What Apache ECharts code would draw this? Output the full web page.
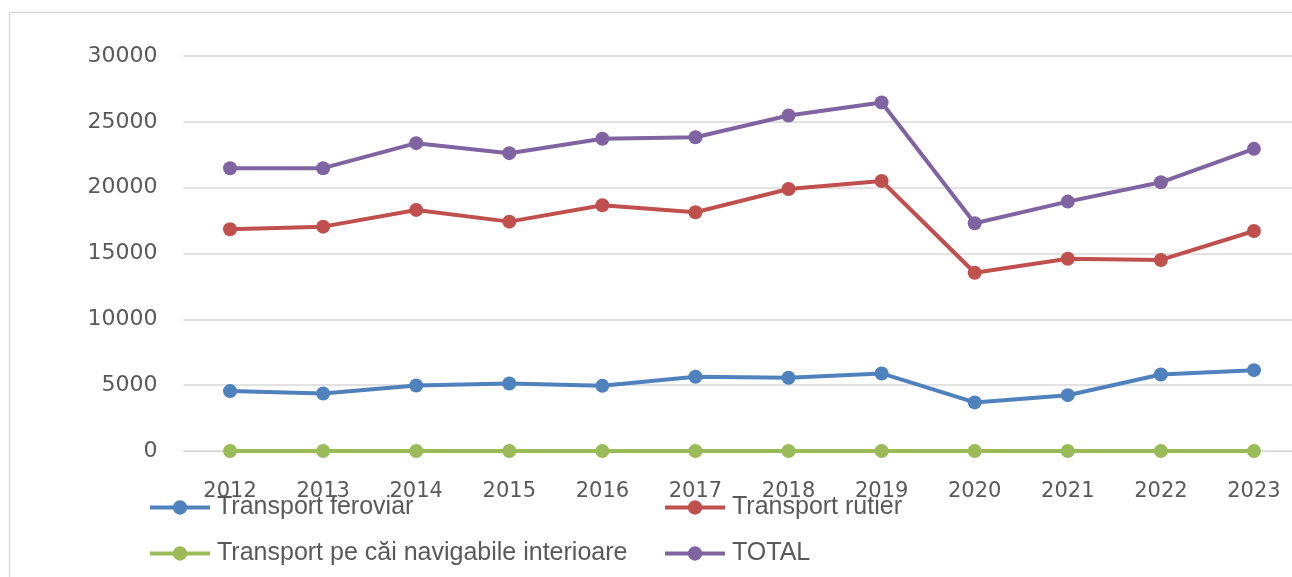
<!DOCTYPE html>
<html>
<head>
<meta charset="utf-8">
<script src="https://cdn.jsdelivr.net/npm/echarts@6/dist/echarts.min.js"></script>
<style>
  html, body { margin: 0; padding: 0; background: #fff; }
  #chart { width: 1292px; height: 577px; }
</style>
</head>
<body>
<div id="chart"></div>
<script>
// ani pe axa X
const years = ["2012", "2013", "2014", "2015", "2016", "2017", "2018", "2019", "2020", "2021", "2022", "2023"];
// valori
const feroviar = [4550, 4370, 4980, 5130, 4950, 5640, 5560, 5890, 3690, 4240, 5810, 6140];
const rutier = [16840, 17040, 18310, 17420, 18660, 18130, 19900, 20510, 13540, 14600, 14510, 16710];
const navigabile = [0, 0, 0, 0, 0, 0, 0, 0, 0, 0, 0, 0];
const total = [21480, 21480, 23380, 22620, 23710, 23830, 25480, 26470, 17300, 18940, 20410, 22950];

const names = [
  "Transport feroviar",
  "Transport rutier",
  "Transport pe căi navigabile interioare",
  "TOTAL",
];
const colors = ["#4F81BD", "#C0504D", "#9BBB59", "#8064A2"];

const labelFont = "'DejaVu Sans', sans-serif";
const legendFont = "'Liberation Sans', Arial, sans-serif";

function lineSeries(name, data, color) {
  return {
    name: name,
    type: "line",
    data: data,
    symbol: "circle",
    symbolSize: 14,
    itemStyle: { color: color },
    lineStyle: { color: color, width: 4 },
    animation: false,
  };
}

const legendCommon = {
  orient: "vertical",
  top: 495,
  padding: 0,
  itemWidth: 60,
  itemHeight: 18,
  itemGap: 21,
  lineStyle: { width: 4 },
  textStyle: { fontFamily: legendFont, fontSize: 25, color: "#595959", padding: [0, 0, 0, 2] },
};

const myChart = echarts.init(document.getElementById("chart"));
myChart.setOption({
  backgroundColor: "#fff",
  color: colors,
  graphic: [
    {
      type: "polyline",
      shape: { points: [[9.5, 600], [9.5, 12.5], [1300, 12.5]] },
      style: { fill: null, stroke: "#d9d9d9", lineWidth: 1.5 },
      silent: true,
    },
  ],
  legend: [
    Object.assign({}, legendCommon, { left: 148, data: [names[0], names[2]] }),
    Object.assign({}, legendCommon, { left: 663, data: [names[1], names[3]] }),
  ],
  // graficul original e tăiat la dreapta, de aceea lățimea trece de marginea ferestrei
  grid: { left: 183.5, width: 1117, top: 56, bottom: 126, outerBoundsMode: "none", containLabel: false },
  xAxis: {
    type: "category",
    data: years,
    boundaryGap: true,
    axisLine: { show: true, lineStyle: { color: "#d9d9d9" } },
    axisTick: { show: false },
    axisLabel: { fontFamily: labelFont, fontSize: 21, color: "#595959", margin: 30 },
  },
  yAxis: {
    type: "value",
    min: 0,
    max: 30000,
    interval: 5000,
    axisLine: { show: false },
    axisTick: { show: false },
    axisLabel: {
      fontFamily: labelFont,
      fontSize: 22,
      color: "#595959",
      margin: 26,
      formatter: (v) => String(v),
    },
    splitLine: { lineStyle: { color: "#d9d9d9", width: 1.5 } },
  },
  series: [
    lineSeries(names[0], feroviar, colors[0]),
    lineSeries(names[1], rutier, colors[1]),
    lineSeries(names[2], navigabile, colors[2]),
    lineSeries(names[3], total, colors[3]),
  ],
});
</script>
</body>
</html>
